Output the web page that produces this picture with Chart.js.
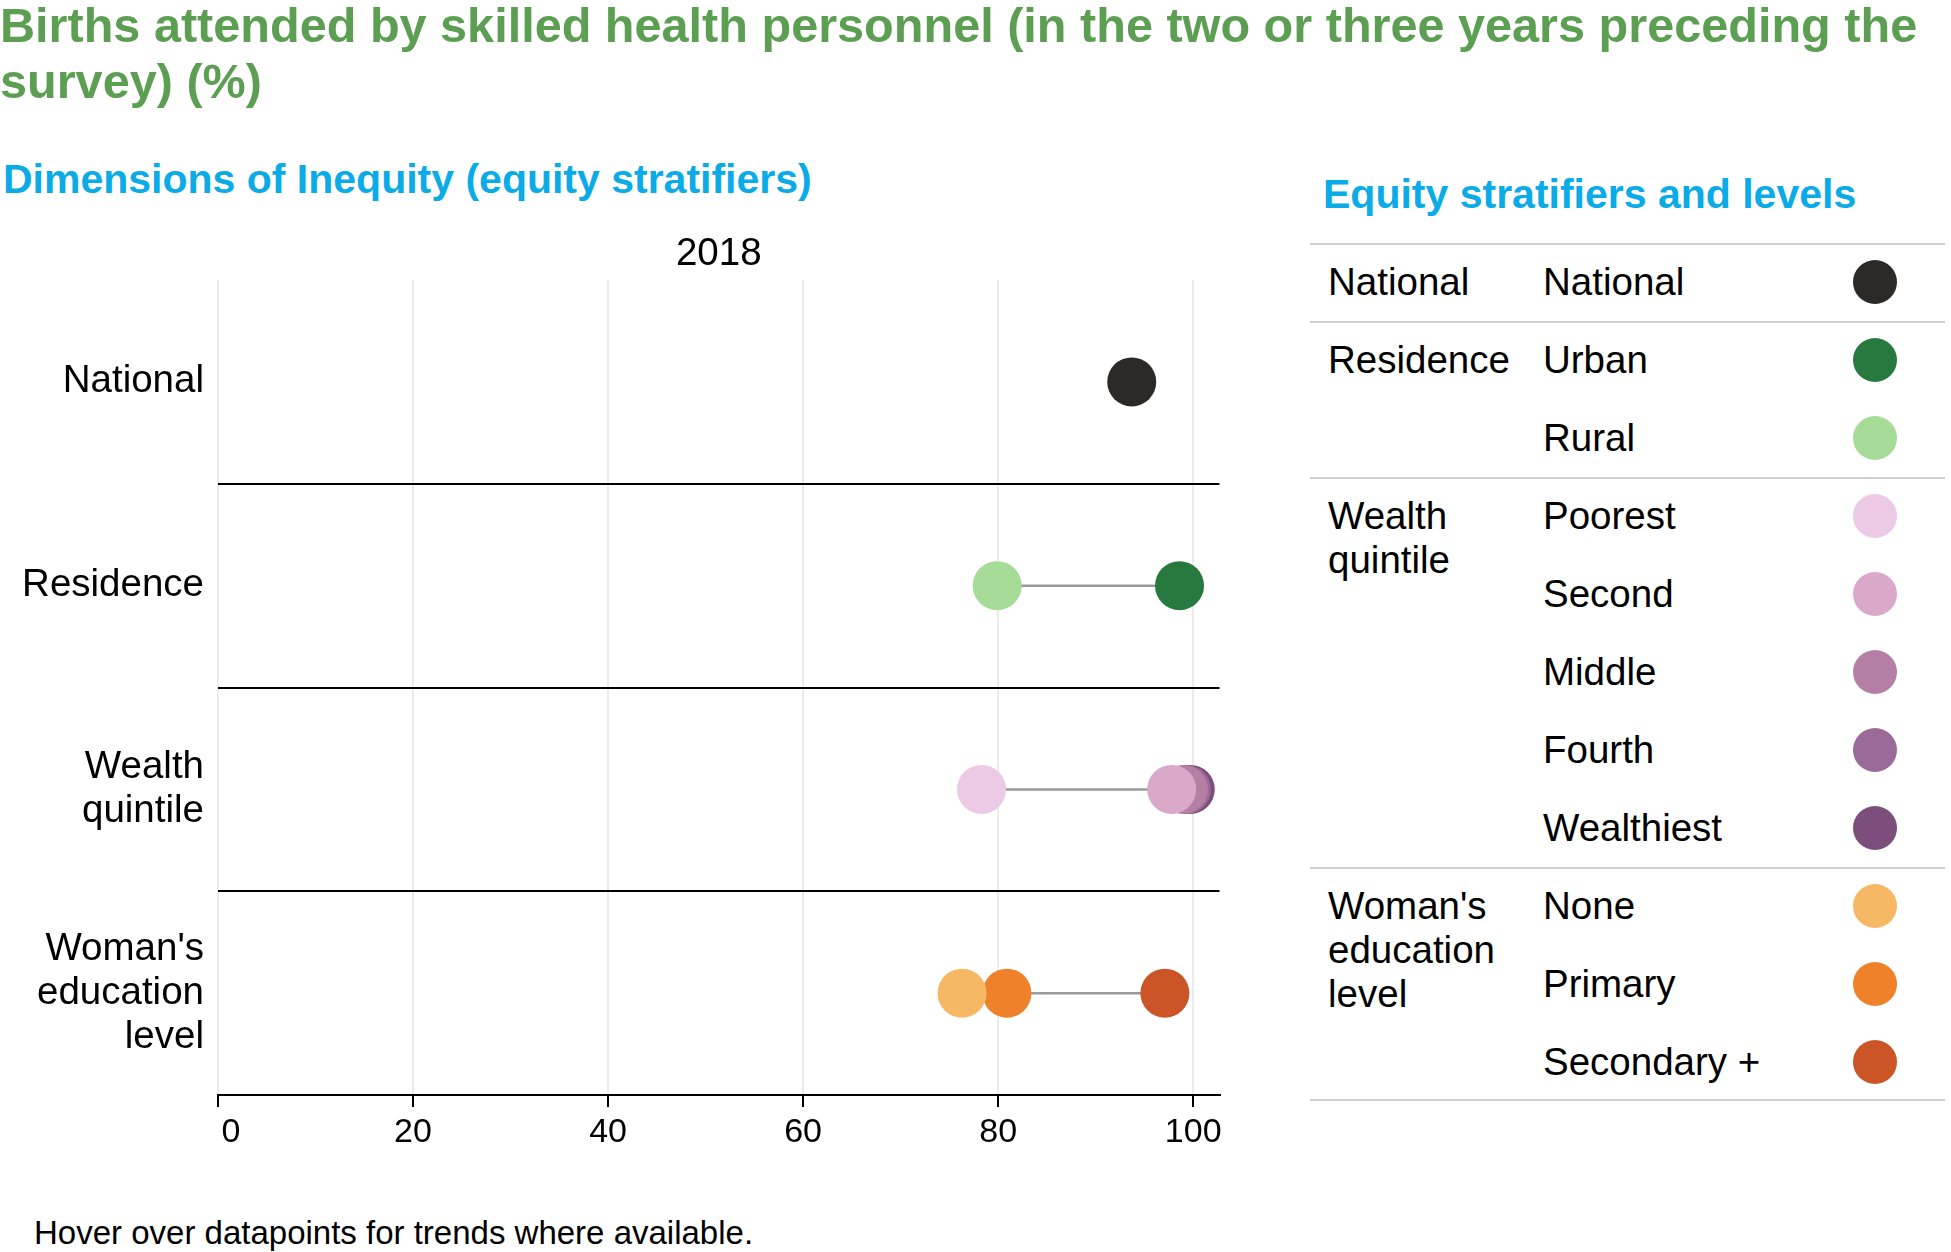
<!DOCTYPE html>
<html>
<head>
<meta charset="utf-8">
<script src="https://cdn.jsdelivr.net/npm/chart.js@4"></script>
<style>
  body { margin: 0; width: 1951px; height: 1252px; background: #fff; font-family: "Liberation Sans", Arial, sans-serif; position: relative; overflow: hidden; }
  .title { position: absolute; left: 0; top: -3px; font-size: 48.6px; font-weight: bold; line-height: 56px; color: #5c9f52; white-space: nowrap; }
  .subtitle { position: absolute; left: 3px; top: 156px; font-size: 41px; font-weight: bold; color: #0aabe6; white-space: nowrap; }
  .legend-title { position: absolute; left: 1323px; top: 171px; font-size: 41px; font-weight: bold; color: #0aabe6; white-space: nowrap; }
  .footer { position: absolute; left: 34px; top: 1214px; font-size: 33px; color: #000; white-space: nowrap; }
  #chart { position: absolute; left: 0; top: 220px; }
  .lg-line { position: absolute; left: 1310px; width: 635px; height: 2px; background: #cfcfcf; }
  .lg-text { position: absolute; font-size: 38.5px; line-height: 44px; color: #000; white-space: nowrap; }
  .lg-dot { position: absolute; width: 44px; height: 44px; border-radius: 50%; }
</style>
</head>
<body>
<div class="title">Births attended by skilled health personnel (in the two or three years preceding the<br>survey) (%)</div>
<div class="subtitle">Dimensions of Inequity (equity stratifiers)</div>
<div class="legend-title">Equity stratifiers and levels</div>
<canvas id="chart" width="1244" height="960"></canvas>
<div id="legend"></div>
<div class="footer">Hover over datapoints for trends where available.</div>
<script>
// dimensions (y categories) and how their tick labels wrap
const dimensions = ['National', 'Residence', 'Wealth quintile', "Woman's education level"];
const dimensionLines = [['National'], ['Residence'], ['Wealth', 'quintile'], ["Woman's", 'education', 'level']];
// levels of each dimension
const levels = ['National', 'Urban', 'Rural', 'Poorest', 'Second', 'Middle', 'Fourth', 'Wealthiest', 'None', 'Primary', 'Secondary +'];
const levelDim = ['National', 'Residence', 'Residence', 'Wealth quintile', 'Wealth quintile', 'Wealth quintile',
    'Wealth quintile', 'Wealth quintile', "Woman's education level", "Woman's education level", "Woman's education level"];
const values = [93.7, 98.6, 79.9, 78.3, 97.8, 99.0, 99.3, 99.7, 76.3, 80.9, 97.1];
const colors = ['#2d2926', '#27793f', '#a6db98', '#ecc9e5', '#daa9c9', '#b57ea5', '#9a6b98', '#7b4e7b', '#f7b866', '#ef812a', '#cb5527'];
const xTicks = [0, 20, 40, 60, 80, 100];
const year = '2018';

const FONT = '"Liberation Sans", Arial, sans-serif';

// dots, one dataset per level
const datasets = levels.map((lv, i) => ({
    type: 'scatter',
    label: lv,
    data: [{ x: values[i], y: levelDim[i] }],
    backgroundColor: colors[i],
    borderWidth: 0,
    pointRadius: 24.5,
    pointHoverRadius: 24.5,
    order: 1
}));

// grey line from min to max in every dimension with more than one level
dimensions.forEach(d => {
    const vals = values.filter((v, i) => levelDim[i] === d);
    if (vals.length < 2) return;
    datasets.push({
        type: 'line',
        data: [{ x: Math.min(...vals), y: d }, { x: Math.max(...vals), y: d }],
        borderColor: '#9a9a9a',
        borderWidth: 2.5,
        pointRadius: 0,
        order: 10
    });
});

const yearLabel = {
    id: 'yearLabel',
    afterDraw(chart) {
        const ctx = chart.ctx;
        const a = chart.chartArea;
        ctx.save();
        ctx.font = '38.5px ' + FONT;
        ctx.fillStyle = '#000';
        ctx.textAlign = 'center';
        ctx.textBaseline = 'middle';
        ctx.fillText(year, (a.left + a.right) / 2, 34);
        ctx.restore();
    }
};

new Chart(document.getElementById('chart'), {
    type: 'scatter',
    data: { labels: dimensions, datasets: datasets },
    options: {
        responsive: false,
        animation: false,
        layout: { padding: { top: 60, right: 21, left: 0, bottom: 0 } },
        plugins: { legend: { display: false }, tooltip: { enabled: false } },
        scales: {
            x: {
                type: 'linear',
                min: 0,
                max: 102.7,
                afterBuildTicks: s => { s.ticks = xTicks.map(v => ({ value: v })); },
                afterFit: s => { s.height = 85; s.paddingLeft = 0; s.paddingRight = 0; },
                ticks: {
                    font: { family: FONT, size: 34 },
                    color: '#000',
                    padding: 5,
                    // the first label sits a little to the right of its tick
                    callback: v => v === 0 ? '\u2007\u2009' + v : '' + v
                },
                grid: { color: '#ebebeb', lineWidth: 2, tickColor: '#000', tickLength: 12, tickWidth: 2 },
                border: { display: true, color: '#000', width: 2 }
            },
            y: {
                type: 'category',
                labels: dimensions,
                offset: true,
                afterFit: s => { s.width = 218; s.paddingTop = 0; s.paddingBottom = 0; },
                ticks: {
                    font: { family: FONT, size: 38.5, lineHeight: 44 / 38.5 },
                    color: '#000',
                    padding: 14,
                    callback: (v, i) => dimensionLines[i]
                },
                grid: {
                    offset: true,
                    drawTicks: false,
                    color: c => c.index === 0 ? 'rgba(0,0,0,0)' : '#000',
                    lineWidth: 2
                },
                border: { display: false }
            }
        }
    },
    plugins: [yearLabel]
});

// legend table on the right
const legend = document.getElementById('legend');
const rowH = 78;
let y = 243;
function addLine(top) {
    const l = document.createElement('div');
    l.className = 'lg-line';
    l.style.top = top + 'px';
    legend.appendChild(l);
}
addLine(y);
dimensions.forEach((d, k) => {
    const idx = levels.map((lv, i) => i).filter(i => levelDim[i] === d);
    const g = document.createElement('div');
    g.className = 'lg-text';
    g.style.left = '1328px';
    g.style.top = (y + 39 - 22) + 'px';
    g.innerHTML = dimensionLines[k].join('<br>');
    legend.appendChild(g);
    idx.forEach((i, r) => {
        const cy = y + 39 + r * rowH;
        const t = document.createElement('div');
        t.className = 'lg-text';
        t.style.left = '1543px';
        t.style.top = (cy - 22) + 'px';
        t.textContent = levels[i];
        legend.appendChild(t);
        const dot = document.createElement('div');
        dot.className = 'lg-dot';
        dot.style.left = (1875 - 22) + 'px';
        dot.style.top = (cy - 22) + 'px';
        dot.style.background = colors[i];
        legend.appendChild(dot);
    });
    y += idx.length * rowH;
    addLine(Math.round(y - (k === dimensions.length - 1 ? 2 : 0)));
});
</script>
</body>
</html>
